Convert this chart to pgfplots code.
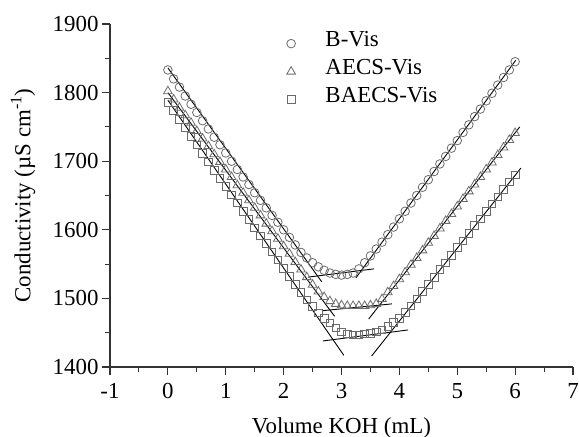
\documentclass[border=0pt]{standalone}
\usepackage{fontspec}
\setmainfont{Liberation Serif}
\usepackage{pgfplots}
\pgfplotsset{compat=1.18}
\usepackage{pgfplotstable}

\pgfplotstableread{
v C
0.0 1833
0.1 1820
0.2 1808
0.3 1795
0.4 1783
0.5 1771
0.6 1759
0.7 1747
0.8 1735
0.9 1724
1.0 1712
1.1 1700
1.2 1688
1.3 1677
1.4 1666
1.5 1654
1.6 1643
1.7 1632
1.8 1621
1.9 1611
2.0 1600
2.1 1589
2.2 1578
2.3 1567
2.4 1559
2.5 1552
2.6 1546
2.7 1541
2.8 1537
2.9 1535
3.0 1534
3.1 1535
3.2 1537
3.3 1543
3.4 1552
3.5 1562
3.6 1572
3.7 1582
3.8 1593
3.9 1604
4.0 1616
4.1 1627
4.2 1639
4.3 1650
4.4 1662
4.5 1673
4.6 1685
4.7 1696
4.8 1707
4.9 1719
5.0 1730
5.1 1742
5.2 1753
5.3 1765
5.4 1776
5.5 1788
5.6 1799
5.7 1811
5.8 1822
5.9 1833
6.0 1845
}\bvis

\pgfplotstableread{
v C
0.0 1802
0.1 1790
0.2 1778
0.3 1767
0.4 1756
0.5 1744
0.6 1733
0.7 1722
0.8 1710
0.9 1699
1.0 1688
1.1 1677
1.2 1665
1.3 1654
1.4 1643
1.5 1632
1.6 1621
1.7 1609
1.8 1598
1.9 1587
2.0 1576
2.1 1565
2.2 1553
2.3 1542
2.4 1531
2.5 1520
2.6 1510
2.7 1502
2.8 1496
2.9 1492
3.0 1490
3.1 1489
3.2 1489
3.3 1489
3.4 1489
3.5 1490
3.6 1492
3.7 1499
3.8 1509
3.9 1518
4.0 1528
4.1 1538
4.2 1549
4.3 1559
4.4 1570
4.5 1581
4.6 1591
4.7 1602
4.8 1613
4.9 1623
5.0 1634
5.1 1645
5.2 1656
5.3 1666
5.4 1677
5.5 1688
5.6 1698
5.7 1709
5.8 1720
5.9 1731
6.0 1741
}\aecs

\pgfplotstableread{
v C
0.0 1786
0.1 1774
0.2 1761
0.3 1749
0.4 1736
0.5 1724
0.6 1711
0.7 1699
0.8 1687
0.9 1675
1.0 1663
1.1 1651
1.2 1639
1.3 1627
1.4 1615
1.5 1603
1.6 1591
1.7 1580
1.8 1568
1.9 1556
2.0 1544
2.1 1532
2.2 1520
2.3 1509
2.4 1498
2.5 1488
2.6 1479
2.7 1471
2.8 1464
2.9 1457
3.0 1451
3.1 1448
3.2 1447
3.3 1447
3.4 1448
3.5 1449
3.6 1451
3.7 1454
3.8 1459
3.9 1465
4.0 1471
4.1 1480
4.2 1489
4.3 1499
4.4 1510
4.5 1520
4.6 1531
4.7 1542
4.8 1552
4.9 1563
5.0 1574
5.1 1584
5.2 1595
5.3 1606
5.4 1616
5.5 1627
5.6 1638
5.7 1648
5.8 1659
5.9 1670
6.0 1680
}\baecs

\definecolor{mk}{gray}{0.42}
\definecolor{ax}{gray}{0.2}

\begin{document}
\begin{tikzpicture}
\begin{axis}[
  at={(110bp,70bp)}, anchor=south west,
  scale only axis, width=463bp, height=343bp,
  xmin=-1, xmax=7, ymin=1400, ymax=1900,
  axis lines*=left,
  axis line style={ax, line width=1.1bp},
  tick style={ax, line width=1.1bp},
  tick align=outside,
  major tick length=8bp, minor tick length=5bp,
  xtick={-1,0,...,7}, ytick={1400,1500,...,1900},
  minor x tick num=1, minor y tick num=1,
  font=\fontsize{23}{27}\selectfont,
  xticklabel style={yshift=-5bp},
  /pgf/number format/assume math mode=true,
  /pgf/number format/1000 sep={},
  xlabel={Volume KOH (mL)},
  ylabel={Conductivity (µS cm\textsuperscript{-1})},
  xlabel style={at={(axis description cs:0.5,-0.178)}, anchor=center},
  ylabel style={at={(axis description cs:-0.188,0.5)}, anchor=center},
  legend cell align=left,
  legend style={draw=none, fill=none, at={(axis cs:2.0,1895)}, anchor=north west,
    nodes={inner ysep=0pt, text height=17bp, text depth=11bp}},
  clip=false,
]
\addplot[only marks, mark=o, mark size=4.3bp, mark options={mk, line width=0.8bp}] table {\bvis};
\addplot[only marks, mark=triangle, mark size=5bp, mark options={mk, line width=0.8bp}] table {\aecs};
\addplot[only marks, mark=square, mark size=3.8bp, mark options={mk, line width=0.8bp}] table {\baecs};
\legend{\hspace{28bp}B-Vis, \hspace{28bp}AECS-Vis, \hspace{28bp}BAECS-Vis}
% fitted lines
\addplot[black, line width=0.9bp, forget plot] coordinates {(0,1836) (2.66,1524)};
\addplot[black, line width=0.9bp, forget plot] coordinates {(2.42,1531) (3.56,1543)};
\addplot[black, line width=0.9bp, forget plot] coordinates {(3.25,1530) (6.01,1847)};
\addplot[black, line width=0.9bp, forget plot] coordinates {(0,1800) (2.88,1474)};
\addplot[black, line width=0.9bp, forget plot] coordinates {(2.66,1482) (3.87,1492)};
\addplot[black, line width=0.9bp, forget plot] coordinates {(3.47,1470) (6.08,1750)};
\addplot[black, line width=0.9bp, forget plot] coordinates {(0,1789) (3.04,1417)};
\addplot[black, line width=0.9bp, forget plot] coordinates {(2.68,1438) (4.15,1454)};
\addplot[black, line width=0.9bp, forget plot] coordinates {(3.52,1416) (6.1,1690)};
\end{axis}
\pgfresetboundingbox
\path[use as bounding box] (0,0) rectangle (579bp,437bp);
\end{tikzpicture}
\end{document}
